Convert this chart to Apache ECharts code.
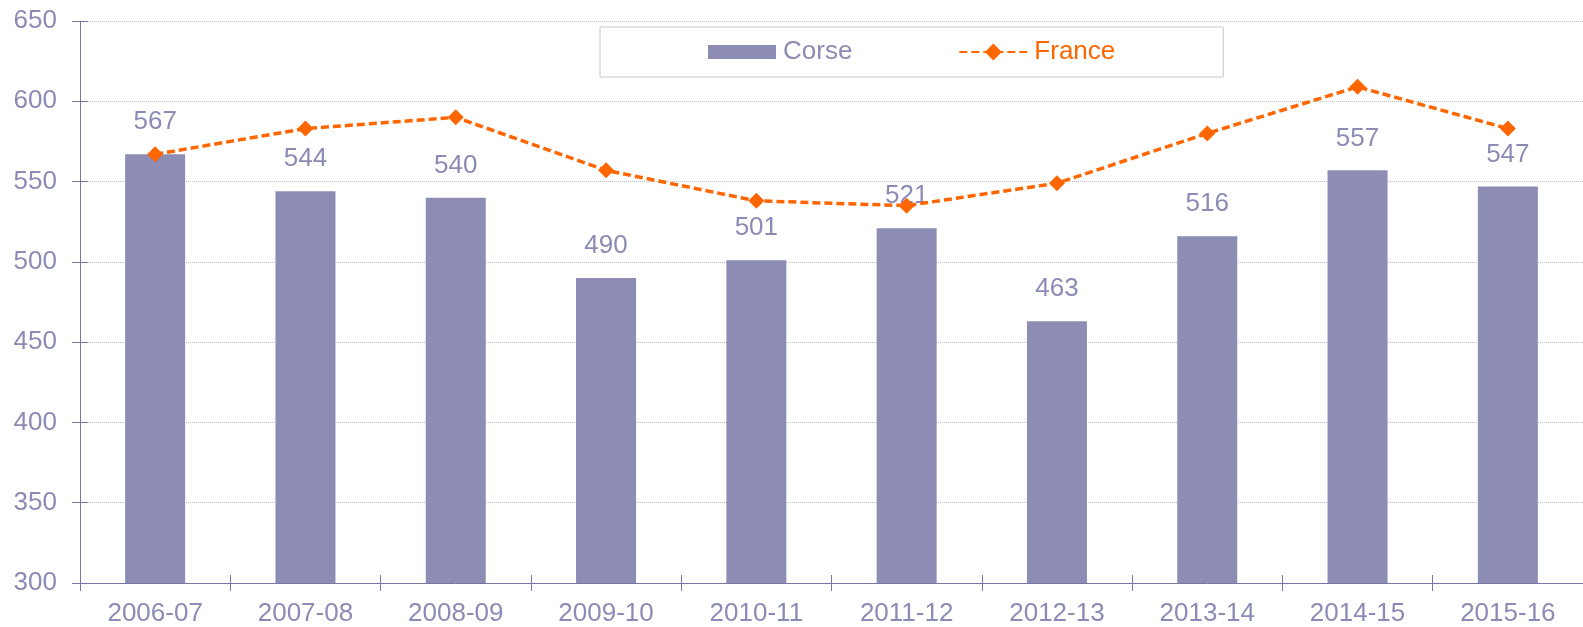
<!DOCTYPE html>
<html>
<head>
<meta charset="utf-8">
<script src="https://cdn.jsdelivr.net/npm/echarts@6/dist/echarts.min.js"></script>
<style>
html,body{margin:0;padding:0;background:#fff;}
#chart{width:1583px;height:627px;}
</style>
</head>
<body>
<div id="chart"></div>
<script>
var categories = ['2006-07','2007-08','2008-09','2009-10','2010-11','2011-12','2012-13','2013-14','2014-15','2015-16'];
var corse = [567, 544, 540, 490, 501, 521, 463, 516, 557, 547];
var france = [567, 583, 590, 557, 538, 535, 549, 580, 609, 583];
var yTicks = {min: 300, max: 650, interval: 50};

var txt = '#8b8bb5';
var axisCol = '#7777a6';
var orange = '#ff6600';
var font = 'Liberation Sans, Arial, sans-serif';
var fs = 26;

var chart = echarts.init(document.getElementById('chart'), null, {renderer: 'canvas'});
chart.setOption({
  animation: false,
  backgroundColor: '#ffffff',
  textStyle: {fontFamily: font},
  grid: {left: 80, right: -13, top: 21, bottom: 42, containLabel: false},
  legend: {
    left: 600, top: 27,
    padding: [12, 108, 12, 108],
    borderColor: '#c8c8c8', borderWidth: 1,
    backgroundColor: '#ffffff',
    itemGap: 106,
    itemWidth: 68, itemHeight: 21,
    textStyle: {fontSize: fs, fontFamily: font, padding: [0, 0, 0, 2]},
    data: [
      {name: 'Corse', icon: 'path://M0,0 M0,3.5 L68,3.5 L68,17.5 L0,17.5 Z M68,21', textStyle: {color: txt}},
      {name: 'France', textStyle: {color: orange}}
    ]
  },
  xAxis: [{
    type: 'category',
    data: categories,
    axisLine: {lineStyle: {color: axisCol, width: 1}},
    axisTick: {show: true, length: 8, lineStyle: {color: axisCol}},
    axisLabel: {color: txt, fontSize: fs, margin: 18, fontFamily: font},
    splitLine: {show: false}
  }, {
    type: 'category',
    position: 'bottom',
    data: categories,
    axisLine: {show: false},
    axisTick: {show: true, inside: true, length: 8, lineStyle: {color: axisCol}},
    axisLabel: {show: false},
    splitLine: {show: false}
  }],
  yAxis: [{
    type: 'value',
    min: yTicks.min, max: yTicks.max, interval: yTicks.interval,
    axisLine: {show: true, lineStyle: {color: axisCol, width: 1}},
    axisTick: {show: true, length: 8, lineStyle: {color: axisCol}},
    axisLabel: {color: txt, fontSize: fs, margin: 23, fontFamily: font},
    splitLine: {show: true, lineStyle: {color: '#bdbdbd', type: 'dotted', width: 1}}
  }, {
    type: 'value',
    position: 'left',
    min: yTicks.min, max: yTicks.max, interval: yTicks.interval,
    axisLine: {show: false},
    axisTick: {show: true, inside: true, length: 8, lineStyle: {color: axisCol}},
    axisLabel: {show: false},
    splitLine: {show: false}
  }],
  series: [{
    name: 'Corse',
    type: 'bar',
    data: corse,
    barWidth: 60,
    itemStyle: {color: '#8c8cb5'},
    label: {show: true, position: 'top', distance: 19, color: txt, fontSize: fs, fontFamily: font},
    z: 2
  }, {
    name: 'France',
    type: 'line',
    data: france,
    symbol: 'diamond',
    symbolSize: 16,
    itemStyle: {color: orange},
    lineStyle: {color: orange, width: 3.5, type: [8, 4]},
    z: 3
  }]
});
</script>
</body>
</html>
